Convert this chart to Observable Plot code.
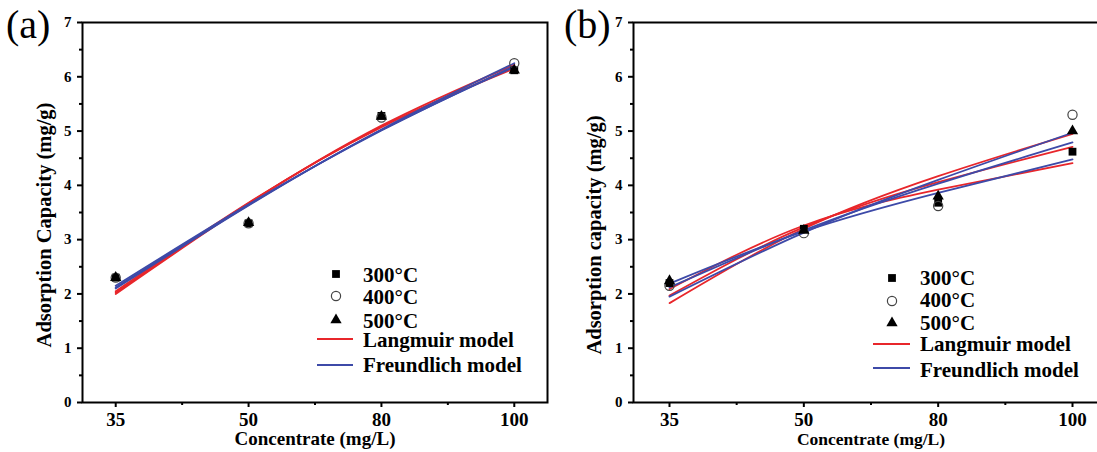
<!DOCTYPE html>
<html><head><meta charset="utf-8">
<script src="https://cdn.jsdelivr.net/npm/d3@7"></script>
<script src="https://cdn.jsdelivr.net/npm/@observablehq/plot@0.6"></script>
<style>
html,body{margin:0;padding:0;background:#fff;overflow:hidden}
#wrap{position:relative;width:1097px;height:452px;overflow:hidden;font-family:"Liberation Serif","Times New Roman",serif}
.panel{position:absolute;top:0}
#overlay{position:absolute;left:0;top:0;pointer-events:none}
</style></head><body><div id="wrap"></div>
<script>
// ---- categories / ticks ----
const concentrations = ["35", "50", "80", "100"];
const xIndex = [0, 1, 2, 3];
const minorX = [0.5, 1.5, 2.5];
const yTicks = [0, 1, 2, 3, 4, 5, 6, 7];
const minorY = [0.5, 1.5, 2.5, 3.5, 4.5, 5.5, 6.5];
const temps = ["300°C", "400°C", "500°C"];
const modelNames = ["Langmuir model", "Freundlich model"];

// ---- panel (a) measured points ----
const a300 = [2.30, 3.30, 5.28, 6.12];
const a400 = [2.30, 3.30, 5.25, 6.25];
const a500 = [2.30, 3.31, 5.27, 6.12];
// ---- panel (a) fitted curves ----
const aLang300 = [2.02, 3.67, 5.08, 6.15];
const aLang400 = [2.00, 3.66, 5.10, 6.22];
const aLang500 = [2.05, 3.68, 5.07, 6.17];
const aFreu300 = [2.12, 3.64, 5.02, 6.18];
const aFreu400 = [2.10, 3.63, 5.03, 6.25];
const aFreu500 = [2.15, 3.65, 5.01, 6.20];

// ---- panel (b) measured points ----
const b300 = [2.20, 3.20, 3.68, 4.62];
const b400 = [2.15, 3.12, 3.62, 5.30];
const b500 = [2.24, 3.17, 3.80, 5.00];
// ---- panel (b) fitted curves ----
const bLang300 = [2.09, 3.26, 3.92, 4.41];
const bLang400 = [1.83, 3.20, 4.17, 4.95];
const bLang500 = [1.97, 3.23, 4.06, 4.71];
const bFreu300 = [2.19, 3.15, 3.86, 4.48];
const bFreu400 = [1.95, 3.13, 4.10, 4.97];
const bFreu500 = [2.12, 3.17, 4.03, 4.79];

const RED = "#e8262b", BLUE = "#3d4aa8";
const FONT = "'Liberation Serif','Times New Roman',serif";

const toRows = (vals, series) => vals.map((v, i) => ({x: xIndex[i], y: v, series}));

function panel({pts, lang, freu, width, marginLeft, marginRight, domain}) {
  const langRows = lang.flatMap((s, k) => toRows(s, "L" + k));
  const freuRows = freu.flatMap((s, k) => toRows(s, "F" + k));
  return Plot.plot({
    width, height: 452, marginLeft, marginRight, marginTop: 22, marginBottom: 50,
    x: {domain}, y: {domain: [0, 7]},
    style: {fontFamily: FONT, fontWeight: "bold", background: "transparent", color: "black", overflow: "visible"},
    marks: [
      Plot.line(langRows, {x: "x", y: "y", z: "series", stroke: RED, strokeWidth: 1.8, curve: "natural"}),
      Plot.line(freuRows, {x: "x", y: "y", z: "series", stroke: BLUE, strokeWidth: 1.8, curve: "natural"}),
      Plot.dot(toRows(pts[0], "300"), {x: "x", y: "y", symbol: "square", fill: "black", r: 4.4}),
      Plot.dot(toRows(pts[1], "400"), {x: "x", y: "y", symbol: "circle", fill: "none", stroke: "#444", strokeWidth: 1.2, r: 4.6}),
      Plot.dot(toRows(pts[2], "500"), {x: "x", y: "y", symbol: "triangle", fill: "black", r: 4.2}),
      Plot.frame({stroke: "black", strokeWidth: 2}),
      Plot.axisX(xIndex, {tickSize: 5, tickPadding: 5, strokeWidth: 2, fontSize: 19, tickFormat: i => concentrations[i], label: null}),
      Plot.axisX(minorX, {tickSize: 3, strokeWidth: 2, tickFormat: () => "", label: null}),
      Plot.axisY(yTicks, {tickSize: 5, tickPadding: 6, strokeWidth: 2, fontSize: 15, tickFormat: d => String(d), label: null}),
      Plot.axisY(minorY, {tickSize: 3, strokeWidth: 2, tickFormat: () => "", label: null})
    ]
  });
}

const wrap = document.getElementById("wrap");
const pa = panel({pts: [a300, a400, a500], lang: [aLang300, aLang400, aLang500], freu: [aFreu300, aFreu400, aFreu500],
  width: 550, marginLeft: 82, marginRight: 3, domain: [-0.25, 3.25]});
pa.classList.add("panel"); pa.style.left = "0px";
wrap.appendChild(pa);
const pb = panel({pts: [b300, b400, b500], lang: [bLang300, bLang400, bLang500], freu: [bFreu300, bFreu400, bFreu500],
  width: 560, marginLeft: 83, marginRight: 2, domain: [-0.268, 3.268]});
pb.classList.add("panel"); pb.style.left = "550px";
wrap.appendChild(pb);

// ---- overlay: panel letters, axis titles, legends ----
const ov = d3.select(wrap).append("svg").attr("id", "overlay").attr("width", 1097).attr("height", 452)
  .style("font-family", FONT);

ov.append("text").attr("x", 6).attr("y", 38).attr("font-size", 40).text("(a)");
ov.append("text").attr("x", 564).attr("y", 38).attr("font-size", 40).text("(b)");

ov.append("text").attr("transform", "translate(51,225) rotate(-90)").attr("text-anchor", "middle")
  .attr("font-size", 20.5).attr("font-weight", "bold").text("Adsorption Capacity (mg/g)");
ov.append("text").attr("transform", "translate(601,235) rotate(-90)").attr("text-anchor", "middle")
  .attr("font-size", 20.5).attr("font-weight", "bold").text("Adsorption capacity (mg/g)");

ov.append("text").attr("x", 315).attr("y", 445).attr("text-anchor", "middle")
  .attr("font-size", 19).attr("font-weight", "bold").text("Concentrate (mg/L)");
ov.append("text").attr("x", 871).attr("y", 445).attr("text-anchor", "middle")
  .attr("font-size", 17.5).attr("font-weight", "bold").text("Concentrate (mg/L)");

function legend(symX, symYs, lineX0, lineX1, lineYs, textX, baselines) {
  const g = ov.append("g");
  const syms = [d3.symbolSquare, d3.symbolCircle, d3.symbolTriangle];
  const sizes = [Math.PI * 4.4 * 4.4, Math.PI * 4.6 * 4.6, Math.PI * 4.2 * 4.2];
  syms.forEach((s, i) => {
    const p = g.append("path").attr("d", d3.symbol(s, sizes[i])())
      .attr("transform", `translate(${symX},${symYs[i]})`);
    if (i === 1) p.attr("fill", "none").attr("stroke", "#444").attr("stroke-width", 1.2);
    else p.attr("fill", "black");
  });
  [RED, BLUE].forEach((c, i) => {
    g.append("line").attr("x1", lineX0).attr("x2", lineX1).attr("y1", lineYs[i]).attr("y2", lineYs[i])
      .attr("stroke", c).attr("stroke-width", 2);
  });
  temps.concat(modelNames).forEach((t, i) => {
    g.append("text").attr("x", textX).attr("y", baselines[i]).attr("font-size", 21)
      .attr("font-weight", "bold").text(t);
  });
}
legend(336, [274, 296, 320], 317, 353, [339, 365], 363, [282, 304, 328, 347, 372]);
legend(892, [278, 301, 323], 873, 910, [344, 368], 920, [285, 307, 330, 351, 377]);
</script>
</body></html>
